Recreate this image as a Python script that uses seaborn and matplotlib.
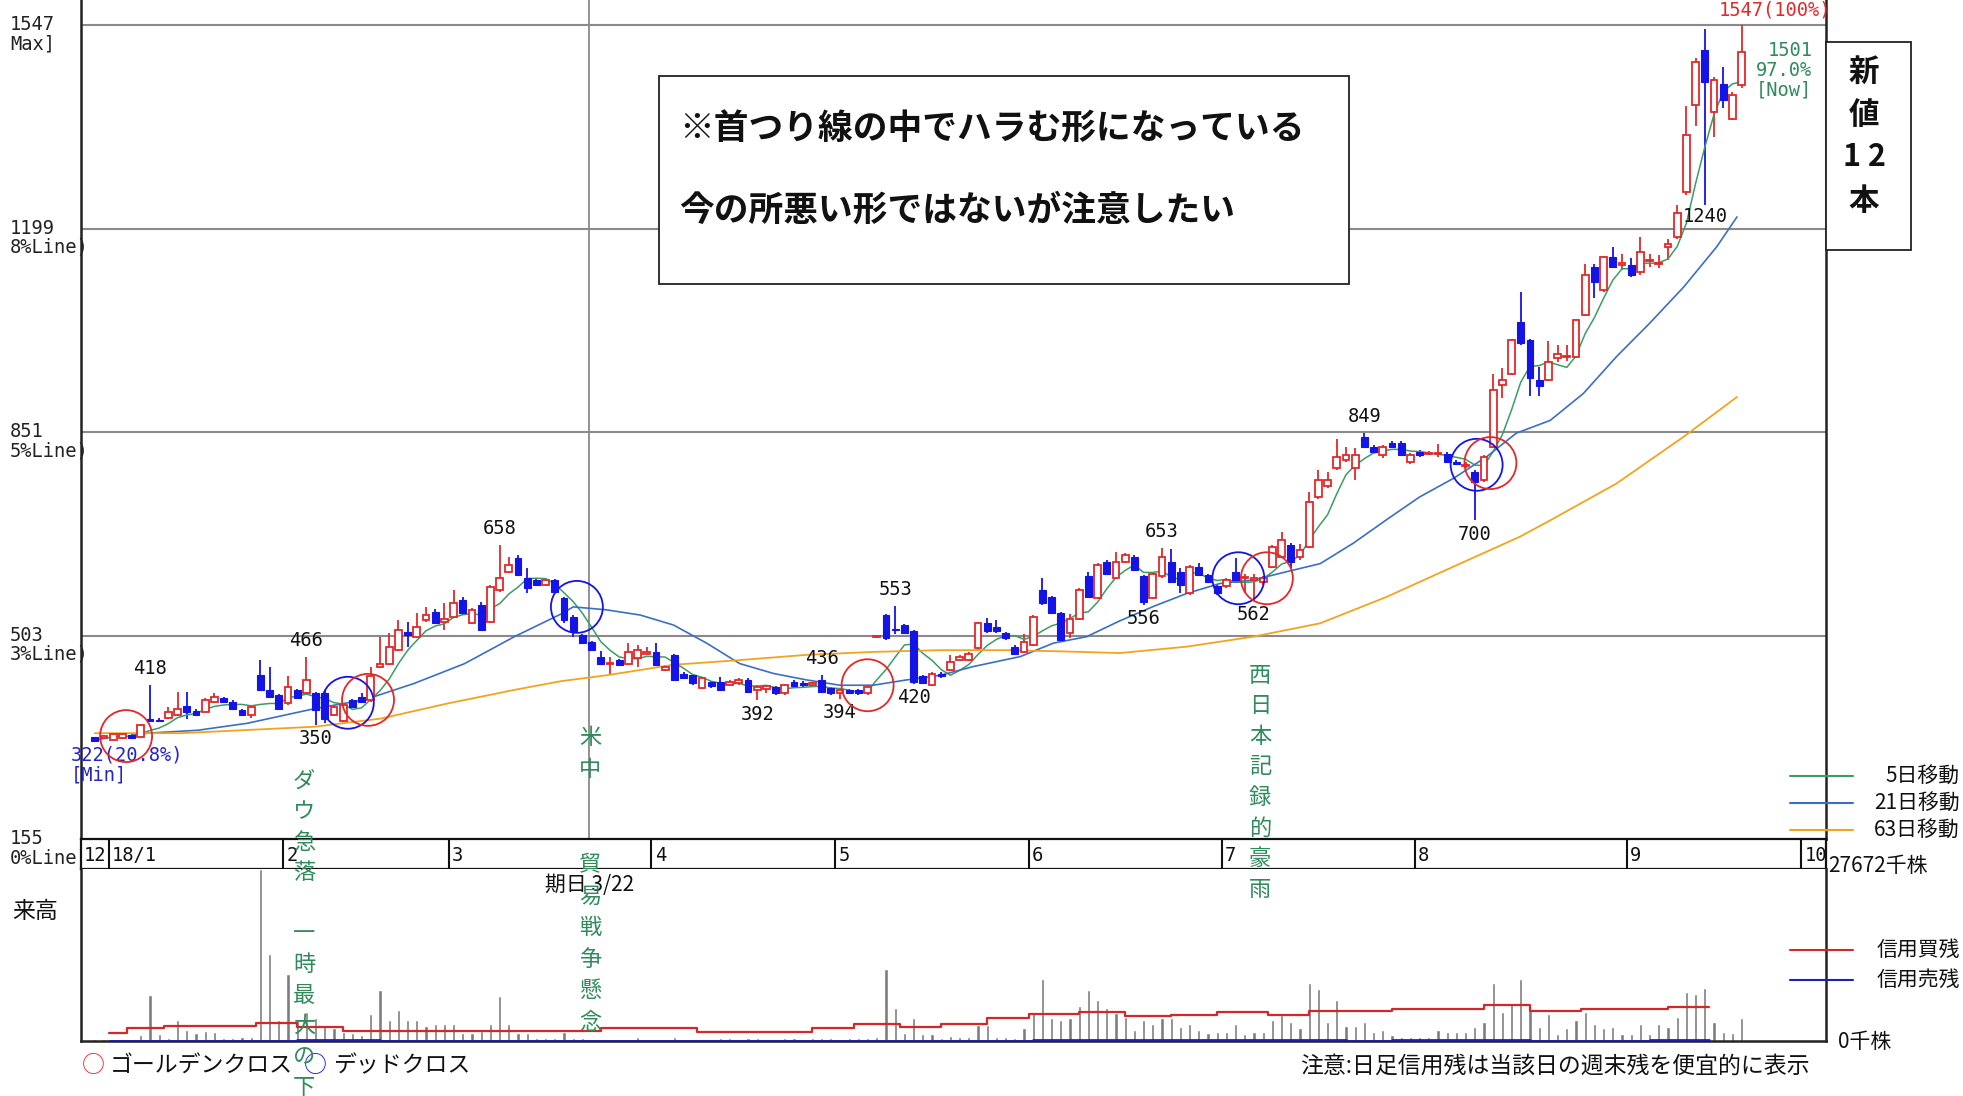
import numpy as np
import pandas as pd
import seaborn as sns
import matplotlib.pyplot as plt
import matplotlib.transforms as mtrans
from matplotlib.patches import Rectangle
from matplotlib.lines import Line2D

# ---- data ----
month_labels = ["12", "18/1", "2", "3", "4", "5", "6", "7", "8", "9", "10"]
month_days = [3, 19, 18, 22, 20, 21, 21, 21, 23, 19]  # trading days per month slot

opens = [329, 327, 325, 327, 333, 329, 361, 359, 362, 367, 382, 374, 373, 390, 396,
         390, 376, 367, 435, 410, 401, 387, 410, 404, 404, 404, 367, 356, 393, 398,
         393, 450, 455, 478, 509, 501, 529, 544, 527, 535, 564, 524, 555, 527, 581,
         612, 635, 601, 598, 589, 598, 567, 535, 504, 492, 467, 454, 461, 455, 464,
         472, 475, 444, 470, 438, 435, 413, 424, 424, 418, 421, 427, 410, 412, 415,
         404, 424, 422, 418, 427, 413, 404, 410, 410, 404, 500, 538, 515, 521, 510,
         433, 418, 438, 444, 461, 461, 481, 524, 518, 507, 484, 475, 487, 581, 569,
         541, 507, 532, 604, 567, 629, 601, 629, 638, 604, 567, 604, 629, 612, 575,
         621, 606, 587, 587, 612, 601, 598, 595, 621, 638, 658, 638, 655, 740, 758,
         789, 803, 789, 843, 826, 812, 832, 832, 800, 817, 813, 814, 814, 800, 793,
         783, 769, 826, 931, 951, 1040, 1008, 940, 940, 977, 979, 980, 1051, 1134, 1094,
         1151, 1137, 1136, 1125, 1143, 1138, 1168, 1185, 1262, 1410, 1504, 1399, 1447, 1387, 1444]
highs = [330, 333, 336, 337, 334, 352, 418, 362, 381, 407, 407, 378, 396, 405, 398,
         392, 378, 385, 461, 450, 403, 433, 412, 466, 406, 410, 383, 388, 395, 405,
         450, 501, 507, 529, 527, 541, 552, 548, 558, 581, 569, 550, 560, 590, 658,
         638, 640, 618, 602, 600, 600, 569, 538, 506, 494, 476, 467, 463, 490, 487,
         484, 490, 452, 472, 440, 437, 432, 426, 432, 427, 430, 430, 418, 419, 417,
         420, 427, 426, 424, 436, 415, 412, 412, 412, 418, 503, 540, 553, 523, 512,
         435, 441, 440, 470, 470, 474, 527, 533, 530, 509, 486, 505, 538, 601, 571,
         543, 540, 584, 612, 627, 632, 646, 644, 640, 606, 612, 653, 651, 618, 624,
         627, 608, 589, 601, 635, 609, 609, 604, 658, 680, 661, 660, 748, 786, 783,
         840, 826, 823, 849, 829, 829, 835, 835, 815, 820, 818, 830, 817, 803, 800,
         786, 812, 950, 960, 1011, 1091, 1011, 963, 1006, 1000, 1000, 1045, 1139, 1139, 1153,
         1168, 1156, 1148, 1185, 1156, 1154, 1182, 1240, 1409, 1490, 1540, 1459, 1475, 1433, 1547]
lows = [322, 326, 324, 326, 326, 328, 355, 355, 360, 366, 361, 365, 372, 388, 388,
        376, 365, 362, 408, 396, 376, 385, 394, 402, 350, 353, 365, 355, 379, 388,
        390, 448, 452, 476, 484, 499, 527, 522, 512, 533, 539, 522, 510, 525, 578,
        610, 604, 575, 587, 587, 576, 525, 500, 488, 476, 453, 438, 451, 453, 450,
        470, 451, 442, 425, 428, 419, 411, 414, 408, 416, 419, 405, 392, 405, 402,
        402, 414, 414, 416, 405, 402, 394, 403, 402, 402, 499, 495, 505, 505, 420,
        421, 416, 431, 442, 459, 459, 479, 508, 508, 496, 470, 473, 485, 555, 539,
        493, 499, 530, 567, 565, 607, 599, 627, 613, 556, 565, 601, 593, 575, 573,
        604, 593, 573, 585, 592, 575, 562, 590, 618, 636, 618, 632, 652, 737, 755,
        786, 800, 769, 823, 815, 806, 823, 810, 797, 809, 811, 809, 798, 795, 789,
        700, 766, 824, 910, 948, 1000, 912, 912, 938, 971, 972, 978, 1049, 1080, 1091,
        1131, 1128, 1117, 1120, 1134, 1131, 1145, 1182, 1257, 1374, 1240, 1356, 1405, 1385, 1440]
closes = [323, 331, 335, 335, 327, 350, 356, 356, 373, 378, 373, 367, 393, 398, 390,
          378, 367, 381, 410, 398, 378, 415, 396, 427, 376, 361, 381, 384, 381, 390,
          433, 455, 484, 512, 504, 518, 538, 524, 532, 558, 541, 547, 512, 586, 601,
          624, 606, 585, 589, 598, 578, 530, 510, 490, 478, 455, 456, 453, 475, 478,
          475, 453, 450, 427, 430, 421, 430, 416, 410, 424, 427, 407, 415, 416, 404,
          418, 416, 418, 422, 407, 404, 410, 405, 404, 415, 502, 498, 512, 507, 424,
          422, 438, 433, 458, 466, 472, 524, 510, 510, 498, 472, 492, 535, 558, 541,
          495, 532, 581, 569, 624, 609, 629, 641, 615, 561, 609, 638, 595, 589, 621,
          606, 595, 575, 598, 598, 603, 601, 601, 655, 666, 629, 649, 732, 769, 769,
          809, 812, 812, 826, 817, 826, 826, 812, 812, 812, 815, 815, 800, 797, 795,
          766, 809, 923, 940, 1008, 1003, 943, 929, 971, 985, 980, 1042, 1119, 1108, 1151,
          1134, 1140, 1119, 1159, 1145, 1140, 1173, 1225, 1359, 1484, 1450, 1453, 1419, 1427, 1501]
volume = [400, 400, 400, 400, 400, 1000, 7370, 1070, 430, 3360,
          1760, 1230, 1600, 1390, 430, 530, 700, 700, 27672, 13940,
          3360, 10730, 3360, 4700, 3630, 2560, 2030, 1500, 1230, 960,
          4330, 8170, 3360, 4970, 3360, 3360, 2400, 2670, 2670, 2670,
          1230, 1230, 1600, 2720, 7210, 2720, 1230, 1230, 430, 430,
          430, 1500, 430, 430, 250, 300, 350, 300, 400, 700,
          350, 300, 400, 700, 300, 350, 400, 350, 500, 450,
          400, 500, 450, 400, 350, 450, 500, 400, 450, 500,
          450, 400, 450, 500, 550, 600, 11640, 5230, 1230, 3630,
          1070, 1070, 500, 800, 600, 700, 2560, 2560, 700, 700,
          500, 2030, 4700, 10040, 3630, 3360, 3630, 5610, 8170, 6570,
          5230, 4430, 3900, 1760, 3360, 2670, 3740, 3740, 2300, 2670,
          1760, 1230, 1500, 1500, 2670, 1070, 1500, 1500, 3360, 4170,
          3100, 2030, 9400, 8440, 3100, 6570, 2400, 2400, 3100, 1500,
          1760, 960, 700, 700, 700, 700, 1760, 1500, 1500, 1500,
          2300, 3100, 9400, 4700, 6030, 10040, 4970, 2300, 4270, 1070,
          2030, 3360, 4590, 2670, 2030, 2300, 1070, 1070, 2670, 1070,
          2670, 2300, 3900, 7900, 7640, 8540, 3100, 1500, 1230, 3630]

ma21_slots = [5, 6.7, 12.2, 17.6, 24.9, 30.3, 35.7, 41.2, 46.6, 51.7, 53.0, 56.6, 60.3,
              63.9, 67.5, 71.1, 74.8, 78.4, 82.0, 85.6, 89.2, 92.9, 96.5, 101.6, 105.2,
              108.8, 112.4, 116.1, 119.7, 123.3, 126.9, 130.5, 134.2, 137.8, 141.4, 145.0,
              148.7, 152.3, 155.5, 159.2, 162.8, 166.4, 170.0, 173.7, 177.3, 179.5]
ma21_vals = [333, 336, 341, 353, 378, 393, 421, 455, 501, 540, 552, 547, 538,
             521, 490, 455, 438, 427, 418, 418, 427, 435, 450, 467, 490,
             501, 528, 553, 575, 592, 598, 612, 626, 661, 701, 740,
             772, 809, 849, 871, 917, 980, 1037, 1099, 1168, 1219]
ma63_slots = [1, 10.4, 24.9, 32.1, 39.4, 46.6, 51.7, 56.6, 63.9, 71.1, 78.4, 85.6, 92.9,
              100.1, 106, 112.4, 119.7, 126.9, 134.2, 141.4, 148.7, 155.9, 159.2, 166.4,
              173.7, 179.5]
ma63_vals = [336, 336, 347, 361, 387, 410, 425, 435, 453, 461, 470, 475, 478,
             478, 476, 473, 484, 501, 524, 569, 621, 672, 700, 763, 843, 911]

margin_buy_start = [2.5, 4.5, 8.5, 18.5, 23, 28, 56, 66.5, 79, 83.5, 88.5, 93, 98, 102.5,
                    108, 113, 118, 123, 128.5, 133, 142, 152, 157, 162.5, 172, 176.5]
margin_buy = [1335, 2030, 2400, 2830, 2300, 1655, 2030, 1500, 2030, 2720, 2300, 2720, 3630,
              4270, 4590, 3950, 4170, 4590, 4170, 4810, 5130, 5870, 4810, 5130, 5500]
margin_sell_start = [2.5, 23, 32, 103, 137, 142, 157, 170, 176.5]
margin_sell = [80, 220, 80, 220, 80, 220, 80, 220]

cross_slots = [4.4, 28.5, 30.7, 53.4, 85.0, 125.3, 128.4, 151.2, 152.7]
cross_prices = [331, 388, 393, 552, 418, 601, 601, 795, 798]
cross_kind = ["gold", "dead", "gold", "dead", "gold", "dead", "gold", "dead", "gold"]

high_marks = [7, 24, 45, 80, 88, 117, 139]
low_marks = [25, 73, 82, 90, 115, 127, 151]
grid_prices = [155, 503, 851, 1199, 1547]
grid_names = ["0%Line)", "3%Line)", "5%Line)", "8%Line)", "Max]"]
kijitsu_slot = 54.7

# ---- setup ----
W, H = 1963, 1096
RED, BLUE = "#e3282a", "#1414e6"
C5, C21, C63 = "#3c9c62", "#3b6fc2", "#f2a41e"
GRID = "#8a8a8a"
NOWGREEN = "#2f8a5c"
MONO = "DejaVu Sans Mono"
JP = ["Noto Sans CJK JP", "DejaVu Sans"]

sns.set_theme(style="white")
plt.rcParams["font.family"] = JP

df = pd.DataFrame({"slot": np.arange(1, len(closes) + 1), "open": opens, "high": highs,
                   "low": lows, "close": closes, "volume": volume})
df["ma5"] = df["close"].rolling(5, min_periods=1).mean()
up = df["close"] >= df["open"]

fig = plt.figure(figsize=(W / 100, H / 100), dpi=100)
x0, x1 = 81, 1826
ax = fig.add_axes([x0 / W, 1 - 839 / H, (x1 - x0) / W, 839 / H])
axd = fig.add_axes([x0 / W, 1 - 869 / H, (x1 - x0) / W, 30 / H])
axv = fig.add_axes([x0 / W, 1 - 1041 / H, (x1 - x0) / W, 172 / H])

xmax = (x1 - x0) / 9.2 - 0.5
for a in (ax, axd, axv):
    a.set_xlim(-0.5, xmax)
    a.set_xticks([])
    a.set_yticks([])
    a.set_facecolor("white")

# ---- price panel ----
ax.set_ylim(155, 1590)
for p in grid_prices[1:]:
    ax.axhline(p, color=GRID, lw=1.5, zorder=0.5)
ax.axvline(kijitsu_slot, color=GRID, lw=1.3, zorder=0.6)

ax.vlines(df["slot"], df["low"], df["high"], colors=np.where(up, RED, BLUE), lw=1.3, zorder=2)
body_h = (df["close"] - df["open"]).abs().clip(lower=1.8)
ax.bar(df["slot"][up], body_h[up], bottom=df["open"][up], width=0.72,
       facecolor="white", edgecolor=RED, lw=1.3, zorder=3)
ax.bar(df["slot"][~up], body_h[~up], bottom=df["close"][~up], width=0.72,
       facecolor=BLUE, edgecolor=BLUE, lw=0.8, zorder=3)

sns.lineplot(x=df["slot"], y=df["ma5"], ax=ax, color=C5, lw=1.1, legend=False, zorder=2.5)
sns.lineplot(x=ma21_slots, y=ma21_vals, ax=ax, color=C21, lw=1.2, legend=False, zorder=2.5)
sns.lineplot(x=ma63_slots, y=ma63_vals, ax=ax, color=C63, lw=1.3, legend=False, zorder=2.5)
ax.set_xlabel("")
ax.set_ylabel("")

for s, p, k in zip(cross_slots, cross_prices, cross_kind):
    ax.scatter([s], [p], s=1400, facecolors="none", edgecolors=RED if k == "gold" else BLUE,
               lw=1.3, zorder=4)

for i in high_marks:
    ax.annotate(str(highs[i - 1]), (i, highs[i - 1]), xytext=(0, 5), textcoords="offset points",
                ha="center", va="bottom", fontsize=13.5, family=MONO, color="#111")
for i in low_marks:
    ax.annotate(str(lows[i - 1]), (i, lows[i - 1]), xytext=(0, -3), textcoords="offset points",
                ha="center", va="top", fontsize=13.5, family=MONO, color="#111")
i_lo176 = 176
ax.annotate(str(lows[i_lo176 - 1]), (i_lo176, lows[i_lo176 - 1]), xytext=(0, -2),
            textcoords="offset points", ha="center", va="top", fontsize=13.5, family=MONO, color="#111")

max_p, min_p, now_p = max(highs), min(lows), closes[-1]
n = len(closes)
ax.annotate(f"{max_p}({max_p / max_p * 100:.0f}%)", (n, max_p), xytext=(24, 4),
            textcoords="offset points", ha="center", va="bottom", fontsize=13.5,
            family=MONO, color=RED, annotation_clip=False)
ax.annotate(f"{now_p}\n{now_p / max_p * 100:.1f}%\n[Now]", (n, now_p), xytext=(51, 8),
            textcoords="offset points", ha="right", va="top", multialignment="right",
            fontsize=13.5, family=MONO, color=NOWGREEN, linespacing=1.05, annotation_clip=False)
ax.annotate(f"{min_p}({min_p / max_p * 100:.1f}%)\n[Min]", (1, min_p), xytext=(-17, -3),
            textcoords="offset points", ha="left", va="top", multialignment="left",
            fontsize=13.5, family=MONO, color="#2424c4", linespacing=1.05, annotation_clip=False)

for side in ("left", "right", "bottom"):
    ax.spines[side].set_color("#222")
    ax.spines[side].set_linewidth(1.8)
ax.spines["top"].set_visible(False)

# left price labels
blend = mtrans.blended_transform_factory(fig.transFigure, ax.transData)
for p, nm in zip(grid_prices, grid_names):
    ax.annotate(f"{p}\n{nm}", (10 / W, p), xycoords=blend, xytext=(0, -6.5),
                textcoords="offset points", ha="left", va="center", fontsize=13.5,
                family=MONO, color="#222", linespacing=1.0, annotation_clip=False)

# ---- date strip ----
bounds = -0.5 + np.cumsum([0] + month_days)
axd.set_ylim(0, 1)
for b in bounds[1:]:
    axd.axvline(b, color="#111", lw=1.5)
for b, lab in zip(bounds, month_labels):
    axd.text(b + 0.35, 0.45, lab, ha="left", va="center", fontsize=13.5, family=MONO, color="#111")
for sp in axd.spines.values():
    sp.set_color("#111")
    sp.set_linewidth(1.6)

# ---- volume panel ----
axv.set_ylim(0, max(volume))
axv.bar(df["slot"], df["volume"], width=0.33, color="#7d7d7d", zorder=2)
axv.step(margin_buy_start, margin_buy + [margin_buy[-1]], where="post", color="#d42828", lw=1.6, zorder=3)
axv.step(margin_sell_start, margin_sell + [margin_sell[-1]], where="post", color="#1f1fb0", lw=2, zorder=3)
for side in ("left", "right", "bottom"):
    axv.spines[side].set_color("#222")
    axv.spines[side].set_linewidth(1.8)
axv.spines["top"].set_visible(False)


# ---- figure-level texts ----
def ftext(x, y, s, **kw):
    return fig.text(x / W, 1 - y / H, s, **kw)


def vtext(x, y0, pitch, s):
    for k, ch in enumerate(s):
        if ch.strip():
            ftext(x, y0 + k * pitch, ch, ha="center", va="center", fontsize=16,
                  color=NOWGREEN, zorder=6)


vtext(304, 781, 30.6, "ダウ急落\u3000一時最大の下落")
vtext(590, 738, 31.6, "米中\u3000\u3000貿易戦争懸念")
vtext(1260, 675, 30.6, "西日本記録的豪雨")

ftext(590, 885, "期日 3/22", ha="center", va="center", fontsize=15, color="#111")
ftext(12, 912, "来高", ha="left", va="center", fontsize=16.5, color="#111")

# comment box
fig.add_artist(Rectangle((659 / W, 1 - 284 / H), (1349 - 659) / W, (284 - 76) / H,
                         transform=fig.transFigure, facecolor="white", edgecolor="#222", lw=1.3, zorder=5))
ftext(679, 129, "※首つり線の中でハラむ形になっている", ha="left", va="center",
      fontsize=25, weight="bold", color="#111", zorder=6)
ftext(679, 210, "今の所悪い形ではないが注意したい", ha="left", va="center",
      fontsize=25, weight="bold", color="#111", zorder=6)

# new high count box
fig.add_artist(Rectangle((1826 / W, 1 - 250 / H), (1911 - 1826) / W, (250 - 42) / H,
                         transform=fig.transFigure, facecolor="white", edgecolor="#222", lw=1.3, zorder=5))
for yy, s in zip([73, 115, 157, 201], ["新", "値", "1 2", "本"]):
    ftext(1864, yy, s, ha="center", va="center", fontsize=22, weight="bold", color="#111", zorder=6)

# right legend
for yy, lab, col in [(776, "5日移動", C5), (803, "21日移動", C21), (830, "63日移動", C63),
                     (950, "信用買残", "#d42828"), (980, "信用売残", "#1f1fb0")]:
    fig.add_artist(Line2D([1790 / W, 1853 / W], [1 - yy / H, 1 - yy / H], color=col, lw=1.5,
                          transform=fig.transFigure, zorder=6))
    ftext(1960, yy, lab, ha="right", va="center", fontsize=15, color="#111")
ftext(1828, 866, f"{max(volume)}千株", ha="left", va="center", fontsize=15, color="#111")
ftext(1838, 1042, "0千株", ha="left", va="center", fontsize=15, color="#111")

# bottom notes
ftext(82, 1066, "○", ha="left", va="center", fontsize=16.5, color=RED)
ftext(110, 1066, "ゴールデンクロス", ha="left", va="center", fontsize=16.5, color="#111")
ftext(304, 1066, "○", ha="left", va="center", fontsize=16.5, color=BLUE)
ftext(333, 1066, "デッドクロス", ha="left", va="center", fontsize=16.5, color="#111")
ftext(1810, 1066, "注意:日足信用残は当該日の週末残を便宜的に表示", ha="right", va="center",
      fontsize=16.5, color="#111")

fig.savefig("out.png", dpi=100, facecolor="white")
